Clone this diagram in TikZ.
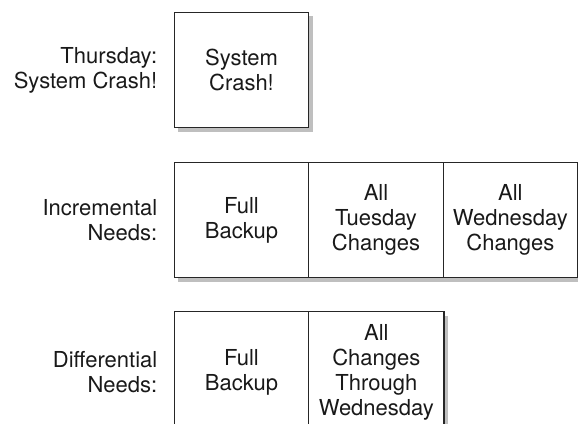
\documentclass[tikz,border=0pt]{standalone}
\usepackage{fontspec}
\setmainfont{TeX Gyre Heros}
\usetikzlibrary{shadows}
\begin{document}
\begin{tikzpicture}[x=1pt,y=-1pt,
  cell/.style={draw=black!85, line width=1.1pt, fill=white,
    minimum width=134.4pt, minimum height=115.4pt, inner sep=0pt,
    align=center, font=\fontsize{22}{25}\selectfont, text=black!90,
    drop shadow={shadow xshift=4pt, shadow yshift=-4pt, fill=black!25, opacity=1}},
  lab/.style={anchor=east, align=right, inner sep=0pt,
    font=\fontsize{22}{25}\selectfont, text=black!90}]
\useasboundingbox (0,0) rectangle (578,423);
\clip (0,0) rectangle (578,423);

% Thursday: the crash
\node[cell] (crash) at (241.5,70) {System\\Crash!};
\node[lab] (crashlab) at (157.5,70) {Thursday:\\System Crash!};

% Incremental restore set
\node[cell] (incfull) at (241.5,220) {Full\\Backup};
\node[cell] (inctue) at (376,220) {All\\Tuesday\\Changes};
\node[cell, minimum width=134.2pt] (incwed) at (510.4,220) {All\\Wednesday\\Changes};
\node[lab] (inclab) at (157.5,220) {Incremental\\Needs:};

% Differential restore set (runs past the lower edge)
\node[cell, minimum height=121pt] (difffull) at (241.5,372.2) {Full\\Backup};
\node[cell, minimum height=121pt, minimum width=135.3pt] (diffall) at (376.35,372.2) {All\\Changes\\Through\\Wednesday};
\node[lab] (difflab) at (157.5,372.2) {Differential\\Needs:};
\end{tikzpicture}
\end{document}
